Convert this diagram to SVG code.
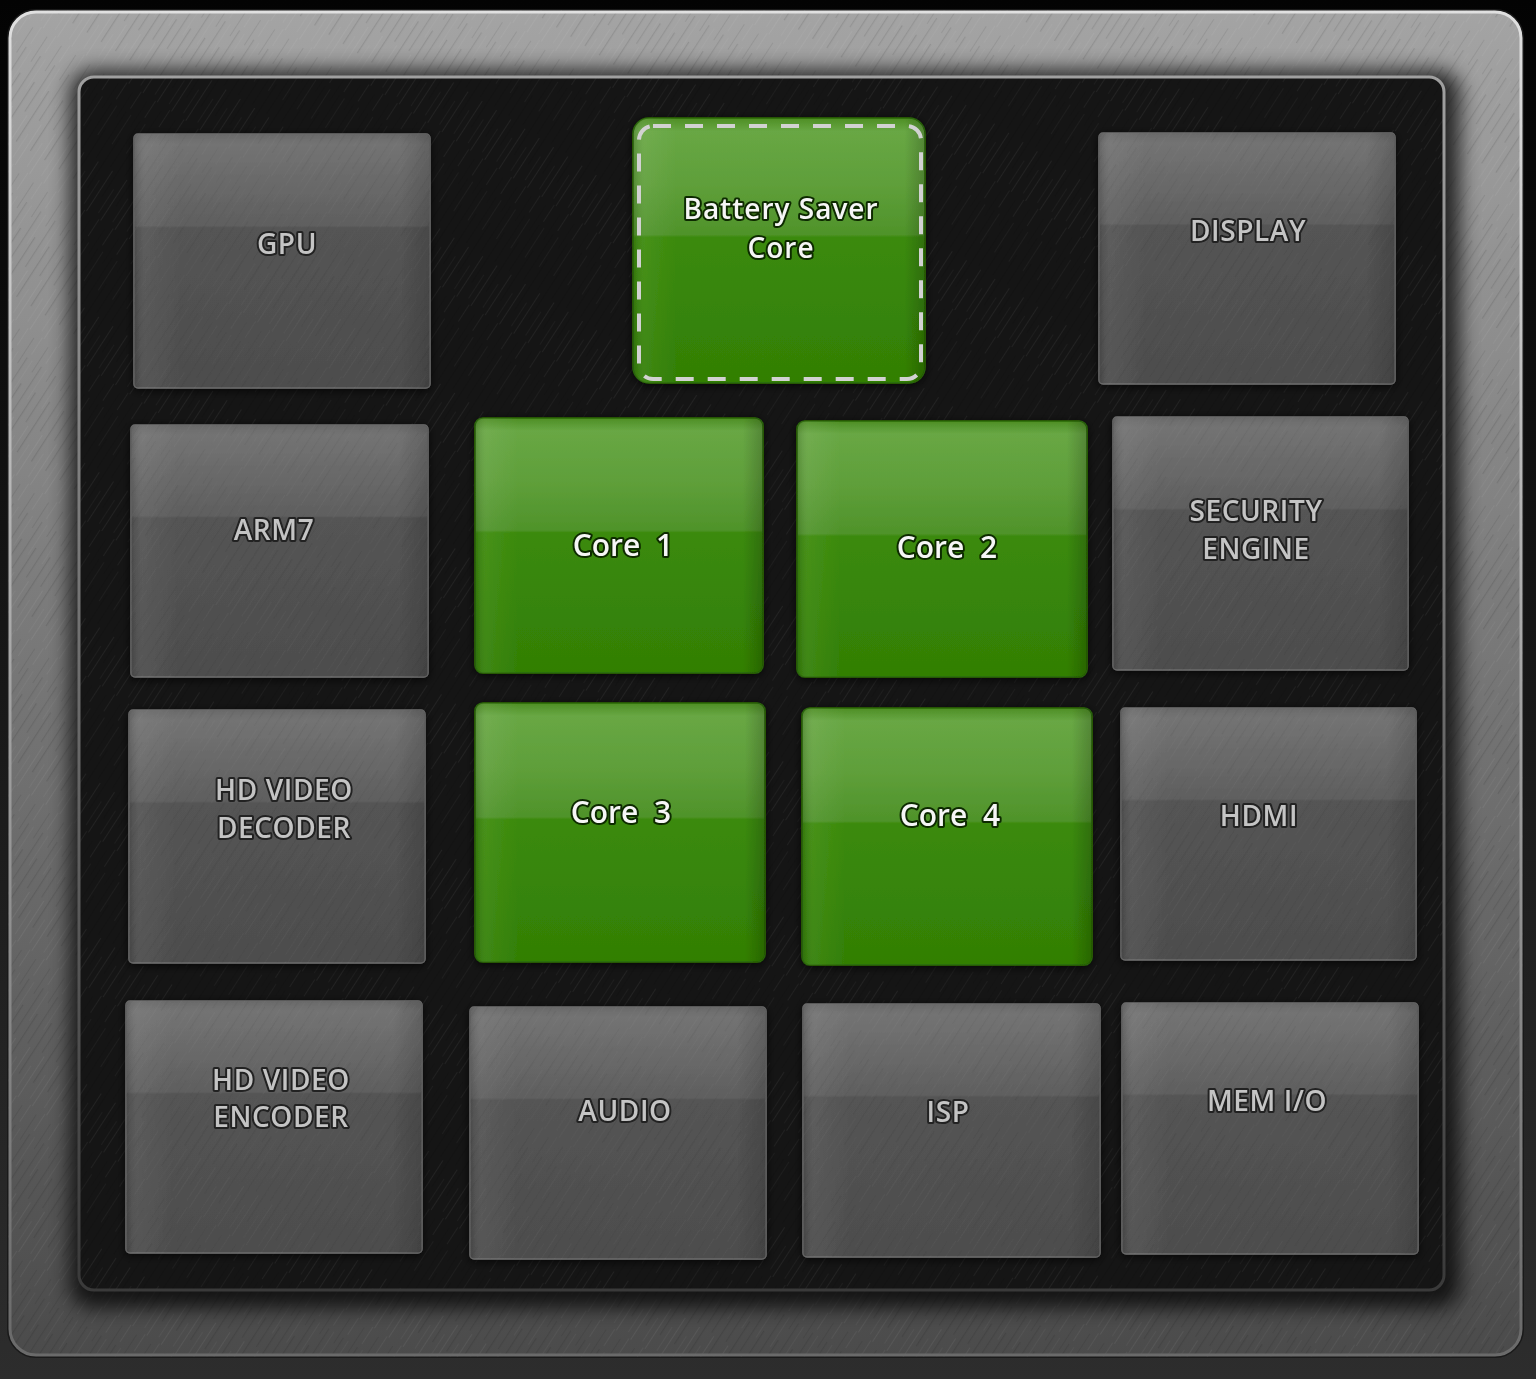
<svg xmlns="http://www.w3.org/2000/svg" width="1536" height="1379" viewBox="0 0 1536 1379">
<defs>
<style>
.lbl{font-family:"Open Sans","DejaVu Sans",sans-serif;font-weight:600;font-size:28px;text-anchor:middle;fill:#c4c4c4;stroke:#222;stroke-width:4;stroke-linejoin:round;paint-order:stroke;letter-spacing:0.6px}
.glbl{font-family:"Open Sans","DejaVu Sans",sans-serif;font-weight:600;font-size:30px;text-anchor:middle;fill:#f6f6f6;stroke:#0e2a02;stroke-width:4;stroke-linejoin:round;paint-order:stroke}
.gray{fill:url(#grayG);stroke:#6c6c6c;stroke-width:1.5}
.grayside{fill:url(#graySide)}
.green{fill:url(#greenG);stroke:#2b6a08;stroke-width:1.5}
.greenside{fill:url(#greenSide)}
.tex{fill:url(#brush)}
.texs{fill:url(#brush);opacity:0.45}
.dash{fill:none;stroke:#d2d2d2;stroke-width:4;stroke-dasharray:18 14}
</style>
<linearGradient id="bg" x1="0" y1="0" x2="0" y2="1">
<stop offset="0" stop-color="#030303"/><stop offset="1" stop-color="#2d2d2d"/>
</linearGradient>
<linearGradient id="frameG" x1="0" y1="0" x2="0" y2="1">
<stop offset="0" stop-color="#a4a4a4"/><stop offset="0.45" stop-color="#7a7a7a"/><stop offset="1" stop-color="#4b4b4b"/>
</linearGradient>
<linearGradient id="frameRim" x1="0" y1="0" x2="0" y2="1">
<stop offset="0" stop-color="#e0e0e0"/><stop offset="1" stop-color="#6a6a6a"/>
</linearGradient>
<linearGradient id="panelRim" x1="0" y1="0" x2="0" y2="1">
<stop offset="0" stop-color="#a0a0a0"/><stop offset="1" stop-color="#3a3a3a"/>
</linearGradient>
<linearGradient id="grayG" x1="0" y1="0" x2="0" y2="1">
<stop offset="0" stop-color="#6a6a6a"/><stop offset="0.04" stop-color="#737373"/><stop offset="0.2" stop-color="#696969"/><stop offset="0.36" stop-color="#5f5f5f"/><stop offset="0.37" stop-color="#545454"/><stop offset="1" stop-color="#4d4d4d"/>
</linearGradient>
<linearGradient id="graySide" x1="0" y1="0" x2="1" y2="0">
<stop offset="0" stop-color="#000" stop-opacity="0.12"/><stop offset="0.04" stop-color="#fff" stop-opacity="0.05"/><stop offset="0.16" stop-color="#fff" stop-opacity="0"/><stop offset="0.9" stop-color="#000" stop-opacity="0"/><stop offset="1" stop-color="#000" stop-opacity="0.15"/>
</linearGradient>
<linearGradient id="greenG" x1="0" y1="0" x2="0" y2="1">
<stop offset="0" stop-color="#4e8e24"/><stop offset="0.05" stop-color="#68a744"/><stop offset="0.25" stop-color="#5f9f3a"/><stop offset="0.44" stop-color="#4f932a"/><stop offset="0.45" stop-color="#3b8a0b"/><stop offset="1" stop-color="#327f05"/>
</linearGradient>
<linearGradient id="greenSide" x1="0" y1="0" x2="1" y2="0">
<stop offset="0" stop-color="#000" stop-opacity="0.15"/><stop offset="0.04" stop-color="#fff" stop-opacity="0.06"/><stop offset="0.15" stop-color="#fff" stop-opacity="0"/><stop offset="0.93" stop-color="#000" stop-opacity="0"/><stop offset="1" stop-color="#000" stop-opacity="0.2"/>
</linearGradient>
<pattern id="brush" width="130" height="17" patternUnits="userSpaceOnUse" patternTransform="rotate(-57)">
<rect x="0" y="0" width="48" height="1" fill="#fff" fill-opacity="0.06"/>
<rect x="70" y="2" width="35" height="1" fill="#fff" fill-opacity="0.04"/>
<rect x="20" y="5" width="60" height="1.2" fill="#000" fill-opacity="0.1"/>
<rect x="95" y="8" width="30" height="1" fill="#000" fill-opacity="0.08"/>
<rect x="5" y="11" width="28" height="1" fill="#fff" fill-opacity="0.04"/>
<rect x="50" y="13" width="55" height="1.2" fill="#000" fill-opacity="0.09"/>
<rect x="110" y="15" width="20" height="1" fill="#fff" fill-opacity="0.05"/>
</pattern>
<filter id="blur12" x="-10%" y="-10%" width="120%" height="120%"><feGaussianBlur stdDeviation="10"/></filter>
<filter id="sh" x="-10%" y="-10%" width="120%" height="120%"><feDropShadow dx="0" dy="2" stdDeviation="4" flood-color="#000" flood-opacity="0.7"/></filter>
</defs>

<rect width="1536" height="1379" fill="url(#bg)"/>

<g id="frame">
<rect x="8" y="10" width="1515" height="1347" rx="28" fill="url(#frameG)" stroke="#1a1a1a" stroke-width="2"/>
<rect x="8" y="10" width="1515" height="1347" rx="28" class="tex"/>
<rect x="10" y="12" width="1511" height="1343" rx="26" fill="none" stroke="url(#frameRim)" stroke-width="3"/>
<rect x="70" y="70" width="1390" height="1238" rx="22" fill="#000" opacity="0.75" filter="url(#blur12)"/>
</g>

<g id="panel">
<rect x="78" y="76" width="1367" height="1215" rx="16" fill="#151515"/>
<rect x="78" y="76" width="1367" height="1215" rx="16" class="tex"/>
<rect x="79" y="77" width="1365" height="1213" rx="15" fill="none" stroke="url(#panelRim)" stroke-width="3"/>
</g>

<g id="gpu" filter="url(#sh)">
<rect x="134" y="134" width="296" height="254" rx="4" class="gray"/><rect x="134" y="134" width="296" height="254" rx="4" class="grayside"/><rect x="134" y="134" width="296" height="254" rx="4" class="texs"/>
<text x="287" y="254" class="lbl">GPU</text>
</g>
<g id="display" filter="url(#sh)">
<rect x="1099" y="133" width="296" height="251" rx="4" class="gray"/><rect x="1099" y="133" width="296" height="251" rx="4" class="grayside"/><rect x="1099" y="133" width="296" height="251" rx="4" class="texs"/>
<text x="1248" y="241" class="lbl">DISPLAY</text>
</g>
<g id="arm7" filter="url(#sh)">
<rect x="131" y="425" width="297" height="252" rx="4" class="gray"/><rect x="131" y="425" width="297" height="252" rx="4" class="grayside"/><rect x="131" y="425" width="297" height="252" rx="4" class="texs"/>
<text x="274" y="540" class="lbl">ARM7</text>
</g>
<g id="security-engine" filter="url(#sh)">
<rect x="1113" y="417" width="295" height="253" rx="4" class="gray"/><rect x="1113" y="417" width="295" height="253" rx="4" class="grayside"/><rect x="1113" y="417" width="295" height="253" rx="4" class="texs"/>
<text x="1256" y="521" class="lbl">SECURITY</text>
<text x="1256" y="559" class="lbl">ENGINE</text>
</g>
<g id="hd-video-decoder" filter="url(#sh)">
<rect x="129" y="710" width="296" height="253" rx="4" class="gray"/><rect x="129" y="710" width="296" height="253" rx="4" class="grayside"/><rect x="129" y="710" width="296" height="253" rx="4" class="texs"/>
<text x="284" y="800" class="lbl">HD VIDEO</text>
<text x="284" y="838" class="lbl">DECODER</text>
</g>
<g id="hdmi" filter="url(#sh)">
<rect x="1121" y="708" width="295" height="252" rx="4" class="gray"/><rect x="1121" y="708" width="295" height="252" rx="4" class="grayside"/><rect x="1121" y="708" width="295" height="252" rx="4" class="texs"/>
<text x="1259" y="826" class="lbl">HDMI</text>
</g>
<g id="hd-video-encoder" filter="url(#sh)">
<rect x="126" y="1001" width="296" height="252" rx="4" class="gray"/><rect x="126" y="1001" width="296" height="252" rx="4" class="grayside"/><rect x="126" y="1001" width="296" height="252" rx="4" class="texs"/>
<text x="281" y="1090" class="lbl">HD VIDEO</text>
<text x="281" y="1127" class="lbl">ENCODER</text>
</g>
<g id="audio" filter="url(#sh)">
<rect x="470" y="1007" width="296" height="252" rx="4" class="gray"/><rect x="470" y="1007" width="296" height="252" rx="4" class="grayside"/><rect x="470" y="1007" width="296" height="252" rx="4" class="texs"/>
<text x="625" y="1121" class="lbl">AUDIO</text>
</g>
<g id="isp" filter="url(#sh)">
<rect x="803" y="1004" width="297" height="253" rx="4" class="gray"/><rect x="803" y="1004" width="297" height="253" rx="4" class="grayside"/><rect x="803" y="1004" width="297" height="253" rx="4" class="texs"/>
<text x="948" y="1122" class="lbl">ISP</text>
</g>
<g id="mem-io" filter="url(#sh)">
<rect x="1122" y="1003" width="296" height="251" rx="4" class="gray"/><rect x="1122" y="1003" width="296" height="251" rx="4" class="grayside"/><rect x="1122" y="1003" width="296" height="251" rx="4" class="texs"/>
<text x="1267" y="1111" class="lbl">MEM I/O</text>
</g>

<g id="battery-saver-core" filter="url(#sh)">
<rect x="633" y="118" width="292" height="265" rx="16" class="green"/><rect x="633" y="118" width="292" height="265" rx="16" class="greenside"/>
<rect x="639" y="126" width="282" height="253" rx="14" class="dash"/>
<text x="781" y="219" class="glbl" style="font-size:28px;letter-spacing:1px">Battery Saver</text>
<text x="781" y="258" class="glbl" style="font-size:28px;letter-spacing:1px">Core</text>
</g>
<g id="core-1" filter="url(#sh)">
<rect x="475" y="418" width="288" height="255" rx="8" class="green"/><rect x="475" y="418" width="288" height="255" rx="8" class="greenside"/>
<text x="623" y="556" class="glbl" word-spacing="8">Core 1</text>
</g>
<g id="core-2" filter="url(#sh)">
<rect x="797" y="421" width="290" height="256" rx="8" class="green"/><rect x="797" y="421" width="290" height="256" rx="8" class="greenside"/>
<text x="947" y="558" class="glbl" word-spacing="8">Core 2</text>
</g>
<g id="core-3" filter="url(#sh)">
<rect x="475" y="703" width="290" height="259" rx="8" class="green"/><rect x="475" y="703" width="290" height="259" rx="8" class="greenside"/>
<text x="621" y="823" class="glbl" word-spacing="8">Core 3</text>
</g>
<g id="core-4" filter="url(#sh)">
<rect x="802" y="708" width="290" height="257" rx="8" class="green"/><rect x="802" y="708" width="290" height="257" rx="8" class="greenside"/>
<text x="950" y="826" class="glbl" word-spacing="8">Core 4</text>
</g>
</svg>
